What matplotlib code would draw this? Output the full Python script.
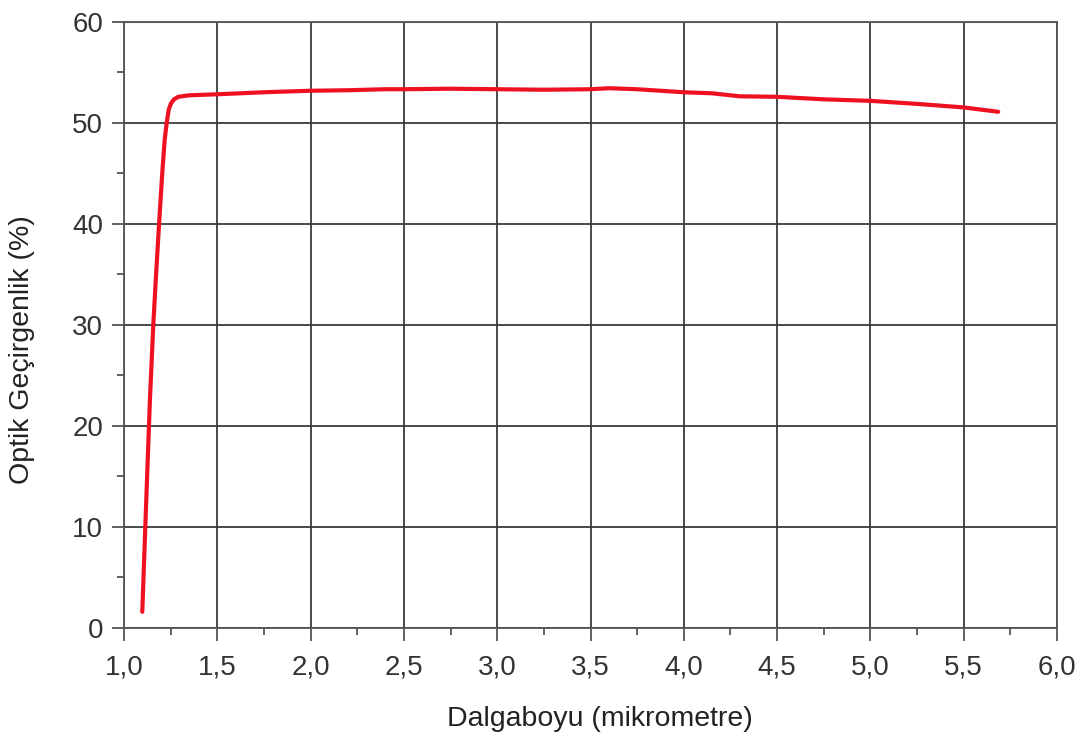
import matplotlib
matplotlib.use("Agg")
import matplotlib.pyplot as plt
from matplotlib.ticker import MultipleLocator, FixedLocator

plt.rcParams['font.family'] = ['Liberation Sans', 'DejaVu Sans']

# Transmission spectrum
wavelength = [1.098, 1.118, 1.139, 1.157, 1.172, 1.188, 1.205, 1.218,
              1.229, 1.240, 1.252, 1.268, 1.291, 1.35, 1.5, 1.75, 2.0, 2.2,
              2.4, 2.5, 2.75, 3.0, 3.25, 3.5, 3.6, 3.75, 4.0, 4.15,
              4.3, 4.5, 4.75, 5.0, 5.25, 5.5, 5.685]
transmission = [1.6, 12.0, 22.6, 30.0, 35.0, 40.0, 45.0, 48.3,
                50.0, 51.3, 51.9, 52.3, 52.55, 52.7, 52.8, 53.0, 53.15, 53.2,
                53.3, 53.3, 53.35, 53.3, 53.25, 53.3, 53.4, 53.3, 53.0, 52.9,
                52.6, 52.55, 52.3, 52.15, 51.85, 51.5, 51.07]

x_ticks = [1.0, 1.5, 2.0, 2.5, 3.0, 3.5, 4.0, 4.5, 5.0, 5.5, 6.0]
x_tick_labels = ['1,0', '1,5', '2,0', '2,5', '3,0', '3,5', '4,0', '4,5', '5,0', '5,5', '6,0']
y_ticks = [0, 10, 20, 30, 40, 50, 60]
y_tick_labels = ['0', '10', '20', '30', '40', '50', '60']

fig = plt.figure(figsize=(10.84, 7.43), dpi=100)
ax = fig.add_axes([124 / 1084, 115 / 743, 933 / 1084, 606.5 / 743])

grid_color = '#3a3a3a'
ax.set_xlim(1.0, 6.0)
ax.set_ylim(0, 60)
ax.xaxis.set_major_locator(FixedLocator(x_ticks))
ax.yaxis.set_major_locator(FixedLocator(y_ticks))
ax.set_xticklabels(x_tick_labels)
ax.set_yticklabels(y_tick_labels)
ax.xaxis.set_minor_locator(MultipleLocator(0.25))
ax.yaxis.set_minor_locator(MultipleLocator(5))

ax.grid(True, which='major', color=grid_color, linewidth=1.3, zorder=1)
ax.set_axisbelow(True)

for side in ['left', 'bottom', 'top', 'right']:
    ax.spines[side].set_color('#555555')
    ax.spines[side].set_linewidth(1.3)

ax.tick_params(axis='both', which='major', direction='out', length=9, width=1.3,
               color='#555555', labelsize=20, labelcolor='#333333', pad=6)
ax.tick_params(axis='both', which='minor', direction='out', length=5, width=1.3,
               color='#555555')
ax.tick_params(top=False, right=False, which='both')
ax.tick_params(axis='x', which='major', pad=10)

ax.plot(wavelength, transmission, color='#ee1122', linewidth=3.0,
        solid_capstyle='round', solid_joinstyle='round', zorder=3)

fig.text(600 / 1084, 1 - 719 / 743, 'Dalgaboyu (mikrometre)', ha='center', va='center',
         fontsize=20.5, color='#222222')
fig.text(22 / 1084, 1 - 350 / 743, 'Optik Geçirgenlik (%)', ha='center', va='center',
         rotation=90, fontsize=20.5, color='#222222')

fig.savefig('out.png', dpi=100)
